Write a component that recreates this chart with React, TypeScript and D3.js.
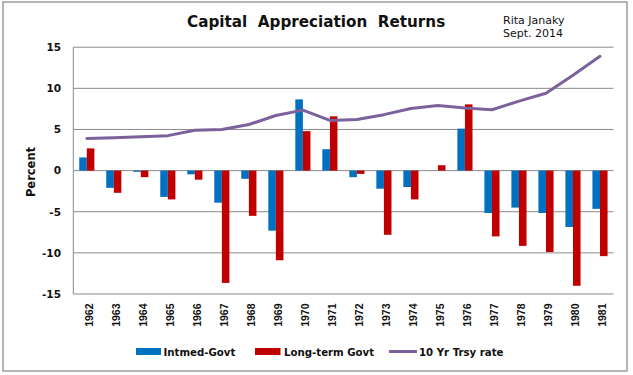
import React from "react";
import * as d3 from "d3";

const years = ["1962","1963","1964","1965","1966","1967","1968","1969","1970","1971","1972","1973","1974","1975","1976","1977","1978","1979","1980","1981"];
const intmedGovt = [1.6,-2.1,-0.15,-3.2,-0.45,-3.9,-1.0,-7.3,8.66,2.6,-0.8,-2.2,-2.0,0,5.1,-5.15,-4.5,-5.15,-6.85,-4.65];
const longTermGovt = [2.7,-2.7,-0.8,-3.5,-1.1,-13.65,-5.5,-10.9,4.8,6.6,-0.4,-7.8,-3.5,0.65,8.05,-8.0,-9.15,-9.9,-14.0,-10.4];
const trsyRate = [3.9,4.0,4.1,4.25,4.9,5.0,5.6,6.7,7.35,6.1,6.2,6.8,7.55,7.9,7.6,7.4,8.45,9.4,11.6,13.9];
const yTicks = [15,10,5,0,-5,-10,-15];
const seriesNames = ["Intmed-Govt","Long-term Govt","10 Yr Trsy rate"];

const BLUE = "#0070C0";
const RED = "#C00000";
const PURPLE = "#7B629D";
const GRID = "#8a8a8a";

export default function App() {
  const W = 633, H = 375;
  const left = 73.3, right = 613.5, top = 47.2, bottom = 294;
  const x = d3.scaleBand<string>().domain(years).range([left, right]).padding(0);
  const y = d3.scaleLinear().domain([-15, 15]).range([bottom, top]);
  const bw = x.bandwidth() * 0.28;
  const cx = (yr: string) => (x(yr) as number) + x.bandwidth() / 2;
  const line = d3.line<number>()
    .x((_, i) => cx(years[i]))
    .y((d) => y(d))
    .curve(d3.curveLinear);
  const font = "'DejaVu Sans', Verdana, sans-serif";

  return (
    <svg width={W} height={H} style={{ position: "fixed", left: 0, top: 0, background: "#fff" }} fontFamily={font}>
      <rect x={3} y={2} width={624} height={369} fill="#fff" stroke="#8c8c8c" strokeWidth={1.3} />
      {/* gridlines */}
      {yTicks.map((t) => (
        <line key={t} x1={left} x2={right} y1={y(t)} y2={y(t)} stroke={GRID} strokeWidth={1} />
      ))}
      <line x1={left} x2={left} y1={top} y2={bottom} stroke={GRID} strokeWidth={1} />
      {/* y tick labels */}
      {yTicks.map((t) => (
        <text key={t} x={61} y={y(t)} dy="0.36em" textAnchor="end" fontSize={10.5} fontWeight="bold" fill="#111">{t}</text>
      ))}
      <text transform={`translate(35,${172}) rotate(-90)`} textAnchor="middle" fontSize={11.5} fontWeight="bold" fill="#111">Percent</text>
      {/* bars */}
      {years.map((yr, i) => (
        <g key={yr}>
          <rect x={cx(yr) - bw} width={bw} y={Math.min(y(0), y(intmedGovt[i]))} height={Math.abs(y(intmedGovt[i]) - y(0))} fill={BLUE} />
          <rect x={cx(yr)} width={bw} y={Math.min(y(0), y(longTermGovt[i]))} height={Math.abs(y(longTermGovt[i]) - y(0))} fill={RED} />
        </g>
      ))}
      <path d={line(trsyRate) || ""} fill="none" stroke={PURPLE} strokeWidth={3} strokeLinejoin="round" strokeLinecap="round" />
      {/* x labels */}
      {years.map((yr) => (
        <text key={yr} transform={`translate(${cx(yr) + 6.2},303.5) rotate(-90)`} textAnchor="end" fontSize={10.5} fontWeight="bold" fontFamily="'Liberation Sans', Arial, sans-serif" fill="#111">{yr}</text>
      ))}
      {/* title */}
      <text x={187} y={27} fontSize={15.2} fontWeight="bold" fill="#111" style={{ whiteSpace: "pre" }}>{"Capital  Appreciation  Returns"}</text>
      <text x={503} y={24} fontSize={11} fill="#111">Rita Janaky</text>
      <text x={503} y={37} fontSize={11} fill="#111">Sept. 2014</text>
      {/* legend */}
      <rect x={136} y={348} width={25} height={7} fill={BLUE} />
      <text x={163.5} y={355.5} fontSize={10.2} fontWeight="bold" fill="#111">{seriesNames[0]}</text>
      <rect x={255} y={348} width={25.5} height={7} fill={RED} />
      <text x={284} y={355.5} fontSize={10.2} fontWeight="bold" fill="#111">{seriesNames[1]}</text>
      <line x1={389} x2={417} y1={351.5} y2={351.5} stroke={PURPLE} strokeWidth={3} />
      <text x={419} y={355.5} fontSize={10.2} fontWeight="bold" fill="#111">{seriesNames[2]}</text>
    </svg>
  );
}
